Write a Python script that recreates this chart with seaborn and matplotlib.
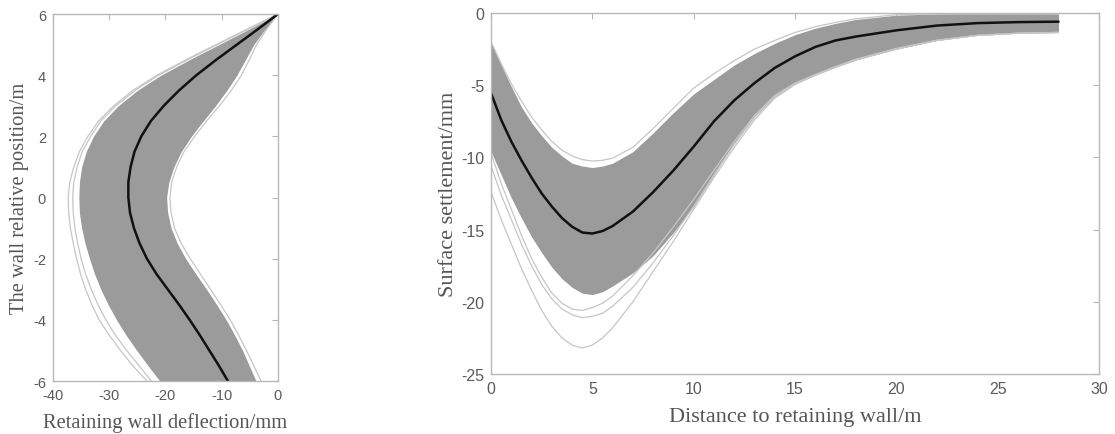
import numpy as np
import pandas as pd
import seaborn as sns
from matplotlib import pyplot as plt

# ---- left panel: wall deflection (mm) vs relative position (m)
wall_pos = [6, 5.5, 5, 4.5, 4, 3.5, 3, 2.5, 2, 1.5, 1, 0.5, 0,
            -0.5, -1, -1.5, -2, -2.5, -3, -3.5, -4, -4.5, -5, -5.5, -6]
defl_mean = [0, -3.6, -7.3, -11.0, -14.5, -17.6, -20.3, -22.6, -24.3, -25.5, -26.2, -26.6, -26.6,
             -26.3, -25.6, -24.6, -23.3, -21.6, -19.6, -17.6, -15.7, -13.9, -12.2, -10.5, -8.9]
defl_low = [0, -5.2, -10.5, -15.8, -20.8, -25.0, -28.4, -31.0, -32.8, -34.1, -34.9, -35.3, -35.4,
            -35.3, -34.9, -34.3, -33.5, -32.6, -31.5, -30.2, -28.7, -27.0, -25.1, -23.1, -21.0]
defl_high = [0, -2.3, -4.3, -5.8, -7.3, -9.1, -11.1, -13.3, -15.4, -17.2, -18.5, -19.4, -19.8,
             -19.6, -19.0, -17.9, -16.4, -14.6, -12.7, -10.9, -9.2, -7.7, -6.3, -5.1, -3.9]
defl_out1 = [0, -5.5, -11.0, -16.4, -21.5, -25.8, -29.2, -31.9, -33.8, -35.3, -36.3, -37.0, -37.3,
             -37.2, -36.9, -36.4, -35.8, -35.1, -34.2, -33.1, -31.8, -30.0, -28.0, -25.8, -23.3]
defl_out2 = [0, -5.4, -10.8, -16.1, -21.2, -25.4, -28.8, -31.5, -33.3, -34.8, -35.7, -36.3, -36.5,
             -36.4, -36.1, -35.6, -35.0, -34.2, -33.2, -32.0, -30.6, -28.9, -26.9, -24.7, -22.5]
defl_out3 = [0, -2.0, -3.8, -5.1, -6.5, -8.3, -10.4, -12.7, -14.8, -16.7, -18.0, -18.9, -19.2,
             -19.0, -18.4, -17.2, -15.6, -13.8, -12.0, -10.2, -8.5, -7.0, -5.6, -4.3, -3.0]

# ---- right panel: surface settlement (mm) vs distance to wall (m)
dist = [0, 0.5, 1, 1.5, 2, 2.5, 3, 3.5, 4, 4.5, 5, 5.5, 6, 7, 8, 9, 10,
        11, 12, 13, 14, 15, 16, 17, 18, 20, 22, 24, 26, 28]
sett_mean = [-5.55, -7.4, -8.9, -10.2, -11.4, -12.5, -13.4, -14.2, -14.8, -15.2, -15.27, -15.1,
             -14.75, -13.75, -12.4, -10.9, -9.25, -7.5, -6.05, -4.85, -3.8, -3.0, -2.35, -1.9,
             -1.63, -1.2, -0.87, -0.7, -0.63, -0.6]
sett_high = [-2.0, -3.6, -5.1, -6.5, -7.6, -8.5, -9.3, -9.9, -10.4, -10.6, -10.7, -10.6,
             -10.4, -9.6, -8.3, -6.9, -5.6, -4.6, -3.6, -2.8, -2.1, -1.5, -1.05, -0.72,
             -0.45, -0.15, -0.06, -0.05, -0.05, -0.05]
sett_low = [-9.6, -11.2, -12.8, -14.2, -15.5, -16.6, -17.6, -18.4, -19.0, -19.4, -19.5, -19.3,
            -18.9, -18.0, -16.8, -15.2, -13.4, -11.2, -9.0, -7.2, -5.8, -4.9, -4.3, -3.75,
            -3.25, -2.5, -1.9, -1.55, -1.4, -1.35]
sett_up_out = [-2.0, -3.5, -4.9, -6.1, -7.2, -8.1, -8.9, -9.5, -9.9, -10.15, -10.25, -10.2,
               -10.05, -9.3, -8.0, -6.6, -5.2, -4.2, -3.3, -2.5, -1.9, -1.35, -0.95, -0.65,
               -0.4, -0.12, -0.05, -0.05, -0.05, -0.05]
sett_low_out1 = [-12.4, -14.3, -16.0, -17.7, -19.2, -20.6, -21.7, -22.5, -23.0, -23.2, -23.0,
                 -22.5, -21.8, -20.0, -17.9, -15.8, -13.6, -11.4, -9.3, -7.4, -5.9, -4.95,
                 -4.3, -3.75, -3.25, -2.5, -1.9, -1.55, -1.4, -1.35]
sett_low_out2 = [-10.6, -12.6, -14.3, -16.0, -17.5, -18.8, -19.8, -20.5, -20.9, -21.1, -21.0,
                 -20.8, -20.3, -19.0, -17.3, -15.4, -13.4, -11.2, -9.1, -7.2, -5.8, -4.9,
                 -4.3, -3.75, -3.25, -2.5, -1.9, -1.55, -1.4, -1.35]
sett_low_out3 = [-9.7, -11.8, -13.6, -15.4, -17.0, -18.3, -19.4, -20.1, -20.5, -20.6, -20.4,
                 -20.1, -19.6, -18.2, -16.6, -14.8, -12.9, -10.9, -8.9, -7.1, -5.7, -4.85,
                 -4.25, -3.7, -3.2, -2.45, -1.88, -1.54, -1.4, -1.34]

band_color = '#9b9b9b'
thin_color = '#c6c6c6'
text_color = '#555555'

sns.set_theme(style='white')
plt.rcParams['font.family'] = ['Liberation Sans', 'DejaVu Sans']
plt.rcParams['axes.unicode_minus'] = False

fig = plt.figure(figsize=(11.15, 4.35), dpi=100)
ax1 = fig.add_axes([0.0475, 0.1218, 0.2018, 0.8437])
ax2 = fig.add_axes([0.4404, 0.1379, 0.5453, 0.8299])

# left panel
ax1.fill_betweenx(wall_pos, defl_low, defl_high, color=band_color, lw=0)
for curve in [defl_out1, defl_out2, defl_out3]:
    sns.lineplot(x=curve, y=wall_pos, ax=ax1, sort=False, estimator=None,
                 color=thin_color, lw=0.9)
sns.lineplot(x=defl_mean, y=wall_pos, ax=ax1, sort=False, estimator=None,
             color='#111111', lw=1.8)
ax1.set_xlim(-40, 0)
ax1.set_ylim(-6, 6)
ax1.set_xticks([-40, -30, -20, -10, 0])
ax1.set_yticks([-6, -4, -2, 0, 2, 4, 6])
ax1.set_xlabel('Retaining wall deflection/mm', family='Liberation Serif', fontsize=14.8,
               color=text_color, labelpad=7)
ax1.set_ylabel('The wall relative position/m', family='Liberation Serif', fontsize=14.8,
               color=text_color, labelpad=3)

# right panel
ax2.fill_between(dist, sett_low, sett_high, color=band_color, lw=0)
for curve in [sett_up_out, sett_low_out1, sett_low_out2, sett_low_out3]:
    sns.lineplot(x=dist, y=curve, ax=ax2, estimator=None, color=thin_color, lw=0.9)
sns.lineplot(x=dist, y=sett_mean, ax=ax2, estimator=None, color='#111111', lw=1.8)
ax2.set_xlim(0, 30)
ax2.set_ylim(-25, 0)
ax2.set_xticks([0, 5, 10, 15, 20, 25, 30])
ax2.set_yticks([-25, -20, -15, -10, -5, 0])
ax2.set_xlabel('Distance to retaining wall/m', family='Liberation Serif', fontsize=16,
               color=text_color, labelpad=8)
ax2.set_ylabel('Surface settlement/mm', family='Liberation Serif', fontsize=16,
               color=text_color, labelpad=2)

for ax, fs in [(ax1, 10.5), (ax2, 11.5)]:
    for sp in ax.spines.values():
        sp.set_visible(True)
        sp.set_color('#b8b8b8')
        sp.set_linewidth(1.0)
    ax.tick_params(direction='in', length=4, width=0.8, color='#b8b8b8',
                   top=True, right=True, labelsize=fs, labelcolor='#5a5a5a', pad=5)

plt.savefig('out.png', dpi=100)
